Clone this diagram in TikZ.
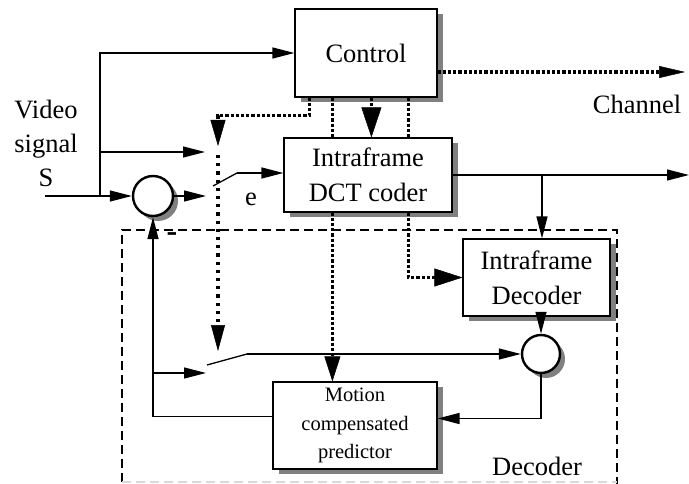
\documentclass[tikz,border=0pt]{standalone}
\usepackage{fontspec}
\setmainfont{Liberation Serif}
\usetikzlibrary{arrows.meta,shadows}

\begin{document}
\begin{tikzpicture}[x=1pt,y=-1pt,
    >={Triangle[length=22pt,width=11pt]},
    block/.style={rectangle, draw, line width=1.2pt, fill=white, align=center,
        font=\fontsize{26.5}{35}\selectfont,
        drop shadow={shadow xshift=6pt, shadow yshift=-5pt, fill=black!50, opacity=1}},
    adder/.style={circle, draw, line width=2.4pt, fill=white, minimum size=40pt, inner sep=0pt,
        drop shadow={shadow xshift=5pt, shadow yshift=-5pt, fill=black!50, opacity=1}},
    sig/.style={line width=1.3pt},
    ctl/.style={line width=3.6pt, dash pattern=on 3.2pt off 2pt},
    ctlthin/.style={line width=3.2pt, dash pattern=on 3.2pt off 5pt},
    lbl/.style={font=\fontsize{26.5}{34}\selectfont, align=center}
]
    \useasboundingbox (0,0) rectangle (689,484);

    % Decoder frame
    \draw[line width=1.2pt, dash pattern=on 9pt off 5pt] (122,482) -- (122,230) -- (617,230) -- (617,484);
    \draw[line width=1.2pt, dash pattern=on 9pt off 5pt, black!15] (122,482) -- (617,482);

    % Blocks
    \node[block, minimum width=142pt, minimum height=88pt] (control) at (366,53) {Control};
    \node[block, minimum width=168pt, minimum height=74pt] (dct) at (368,175) {Intraframe\\DCT coder};
    \node[block, minimum width=147pt, minimum height=77pt] (idec) at (536.5,277.5) {Intraframe\\Decoder};
    \node[block, minimum width=164pt, minimum height=87pt, font=\fontsize{20.5}{28.5}\selectfont] (mcp) at (355,425.5) {Motion\\compensated\\predictor};
    \node[adder] (sum1) at (153,196) {};
    \node[adder, minimum size=38pt] (sum2) at (541,354) {};

    % Switch points and free ends
    \coordinate (src) at (45,196);
    \coordinate (tap) at (100,196);
    \coordinate (sw1in) at (205,152);
    \coordinate (sw1low) at (206,196);
    \coordinate (sw1a) at (213,186);
    \coordinate (sw1b) at (237,173);
    \coordinate (sw2in) at (206,373);
    \coordinate (sw2a) at (207,365);
    \coordinate (sw2b) at (247,354);
    \coordinate (swc1) at (218,146);
    \coordinate (swc2) at (218,351);
    \coordinate (chan) at (685,72);
    \coordinate (out) at (689,175);
    \coordinate (tapo) at (542,175);

    % Labels
    \node[lbl] (vid) at (46,143) {Video\\signal\\S};
    \node[lbl] (elbl) at (251,199) {e};
    \node[lbl, font=\fontsize{32}{34}\selectfont\bfseries] (minus) at (172,237) {-};
    \node[lbl] (chlbl) at (637,104) {Channel};
    \node[lbl] (declbl) at (537,466) {Decoder};

    % Forward path
    \draw[sig,->] (src) -- (sum1.west);
    \draw[sig,->] (tap) |- (control.west);
    \draw[sig,->] (tap |- sw1in) -- (sw1in);
    \draw[sig,->] (sum1.east) -- (sw1low);
    \draw[sig] (sw1a) -- (sw1b);
    \draw[sig,->] (sw1b) -- (sw1b -| dct.west);
    \draw[sig,->] (dct.east) -- (out);
    \draw[sig,->] (tapo) -- (tapo |- idec.north);

    % Control signals
    \draw[ctl,-{Triangle[length=26pt,width=15pt,line width=0.5pt]}] ([xshift=15pt]control.south west) -- ++(0,18) -| (swc1);
    \draw[ctlthin,-{Triangle[length=26pt,width=14pt,line width=0.5pt]}] ([yshift=-9pt]swc1) -- (swc2);
    \draw[ctl] ([xshift=38pt]control.south west) -- ([xshift=49pt]dct.north west);
    \draw[ctl,-{Triangle[length=30pt,width=20pt,line width=0.5pt]}] ([xshift=77pt]control.south west) -- ([xshift=88pt]dct.north west);
    \draw[ctl] ([xshift=114pt]control.south west) -- ([xshift=125pt]dct.north west);
    \draw[ctl,-{Triangle[length=26pt,width=12pt,line width=0.5pt]}] (control.east |- chan) -- (chan);

    % Decoder loop
    \draw[ctl,-{Triangle[length=25pt,width=16pt,line width=0.5pt]}] ([xshift=49pt]dct.south west) -- ([xshift=60pt]mcp.north west);
    \draw[ctl,-{Triangle[length=28pt,width=18pt,line width=0.5pt]}] ([xshift=125pt]dct.south west) |- (idec.west);
    \draw[sig,->] (idec.south -| sum2) -- (sum2.north);
    \draw[sig,->] (sum2.south) |- ([yshift=7pt]mcp.east);
    \draw[sig,->] ([yshift=9pt]mcp.west) -| (sum1.south);
    \draw[sig,->] (sum1 |- sw2in) -- (sw2in);
    \draw[sig] (sw2a) -- (sw2b);
    \draw[sig,->] (sw2b) -- (sum2.west);
\end{tikzpicture}
\end{document}
